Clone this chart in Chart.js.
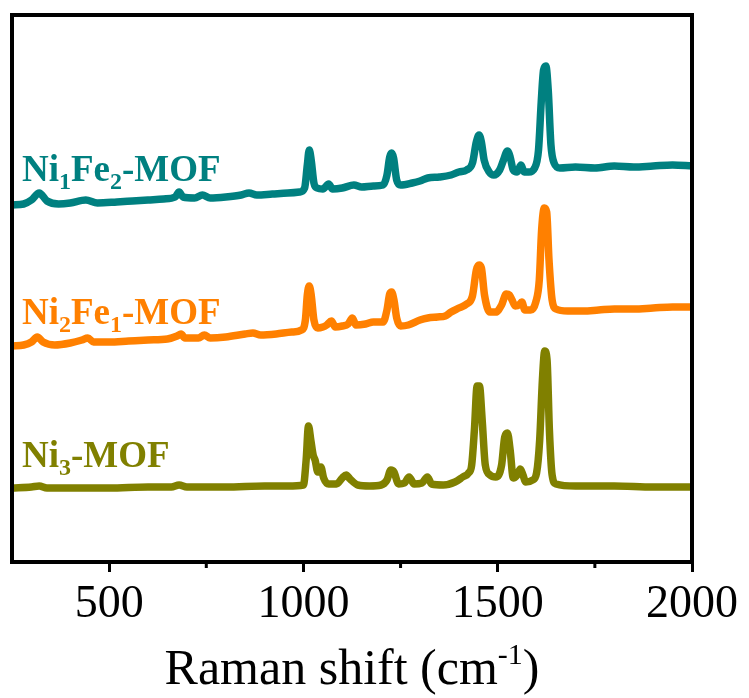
<!DOCTYPE html>
<html><head><meta charset="utf-8">
<script src="https://cdn.jsdelivr.net/npm/chart.js@4"></script>
<style>html,body{margin:0;padding:0;background:#fff}#wrap{width:749px;height:698px}</style>
</head><body><div id="wrap"><canvas id="c" width="749" height="698"></canvas></div>
<script>
// ---- data (Raman shift in cm-1, intensity in offset arbitrary units) ----
const ni1fe2Shift = [
  250,280,300,320,340,370,400,440,470,520,
  560,600,640,670,680,690,720,740,760,800,
  840,860,880,920,960,990,1003,1010,1015,1020,
  1027,1035,1050,1065,1075,1100,1130,1150,1180,1205,
  1215,1222,1227,1232,1240,1250,1280,1300,1320,1350,
  1380,1400,1420,1435,1445,1452,1458,1465,1478,1490,
  1505,1515,1525,1532,1540,1550,1560,1568,1580,1595,
  1605,1612,1618,1624,1630,1637,1645,1660,1700,1750,
  1800,1850,1900,1950,2000];
const ni1fe2Intensity = [
  357,358,362,369,361,358,359,362,359,360,
  361,362,363,365,370,365,364,367,364,365,
  367,369,367,368,369,370,374,397,412,402,
  379,374,373,378,373,374,377,375,376,377,
  387,405,409,404,382,377,379,381,384,385,
  387,390,392,399,420,427,420,402,390,387,
  392,402,411,405,392,390,397,390,390,394,
  412,460,492,496,472,417,399,394,395,394,
  396,395,396,397,396];

const ni2fe1Shift = [
  250,280,300,315,330,360,400,430,445,460,
  500,550,600,650,675,685,695,730,745,760,
  800,850,870,890,930,970,995,1005,1010,1015,
  1020,1027,1037,1050,1060,1072,1082,1100,1115,1126,
  1135,1160,1180,1205,1215,1222,1227,1233,1240,1250,
  1270,1300,1320,1345,1365,1380,1400,1420,1435,1445,
  1452,1458,1466,1480,1495,1510,1522,1530,1537,1545,
  1555,1562,1570,1585,1598,1607,1613,1620,1626,1632,
  1640,1650,1680,1720,1760,1800,1850,1900,1950,2000];
const ni2fe1Intensity = [
  216,217,220,225,220,217,219,222,224,220,
  220,221,222,223,226,228,224,224,227,224,
  225,228,229,227,228,230,232,242,267,276,
  267,242,234,235,237,241,235,236,238,244,
  237,238,240,240,252,268,270,262,244,236,
  237,242,244,245,246,250,254,258,266,292,
  297,294,267,250,250,257,268,267,262,256,
  257,260,252,252,260,282,332,354,350,302,
  262,253,251,251,252,253,253,254,255,255];

const ni3Shift = [
  250,300,320,340,400,500,600,660,680,700,
  800,900,960,1000,1007,1013,1019,1025,1030,1037,
  1045,1052,1065,1085,1100,1110,1120,1140,1170,1200,
  1215,1225,1233,1245,1260,1272,1285,1305,1319,1330,
  1360,1390,1410,1425,1433,1440,1447,1453,1460,1468,
  1480,1495,1510,1518,1525,1532,1540,1550,1558,1565,
  1572,1590,1600,1608,1615,1621,1627,1633,1640,1650,
  1700,1800,1900,2000];
const ni3Intensity = [
  74,75,76,74,74,74,75,75,77,75,
  75,76,76,77,102,136,122,107,102,90,
  95,84,78,78,84,87,83,77,76,77,
  82,92,90,78,79,85,78,79,85,78,
  77,80,85,89,97,132,176,176,142,97,
  87,85,97,125,129,112,84,87,93,87,
  80,82,89,122,182,211,202,132,87,78,
  76,76,75,75];

const seriesNames = ['Ni1Fe2-MOF', 'Ni2Fe1-MOF', 'Ni3-MOF'];
const seriesLabelParts = [
  [['Ni',0],['1',1],['Fe',0],['2',1],['-MOF',0]],
  [['Ni',0],['2',1],['Fe',0],['1',1],['-MOF',0]],
  [['Ni',0],['3',1],['-MOF',0]]
];
const seriesColors = ['#008080', '#FF8000', '#808000'];
const xTickValues = [500, 1000, 1500, 2000];
const xMinorTickValues = [750, 1250, 1750];
const xTitleMain = 'Raman shift (cm';
const xTitleSup = '-1';
const xTitleEnd = ')';

const toPts = (xs, ys) => xs.map((v, i) => ({x: v, y: ys[i]}));
const seriesData = [
  toPts(ni1fe2Shift, ni1fe2Intensity),
  toPts(ni2fe1Shift, ni2fe1Intensity),
  toPts(ni3Shift, ni3Intensity)
];
const labelBaselines = [181, 324, 467];

const decor = {
  id: 'decor',
  afterDraw(chart) {
    const {ctx, chartArea: a, scales: {x}} = chart;
    ctx.save();
    ctx.strokeStyle = '#000';
    ctx.lineWidth = 4;
    ctx.strokeRect(a.left, a.top, a.right - a.left, a.bottom - a.top);
    ctx.lineWidth = 3;
    xMinorTickValues.forEach(v => {
      const px = x.getPixelForValue(v);
      ctx.beginPath(); ctx.moveTo(px, a.bottom); ctx.lineTo(px, a.bottom + 6); ctx.stroke();
    });
    // axis title with superscript
    ctx.fillStyle = '#000';
    ctx.textBaseline = 'alphabetic';
    ctx.textAlign = 'left';
    const fMain = '50px "Liberation Serif", "Times New Roman", serif';
    const fSup = '30px "Liberation Serif", "Times New Roman", serif';
    ctx.font = fMain; const w1 = ctx.measureText(xTitleMain).width; const w3 = ctx.measureText(xTitleEnd).width;
    ctx.font = fSup; const w2 = ctx.measureText(xTitleSup).width;
    const total = w1 + w2 + w3;
    let tx = (a.left + a.right) / 2 - total / 2;
    const ty = 684;
    ctx.font = fMain; ctx.fillText(xTitleMain, tx, ty); tx += w1;
    ctx.font = fSup; ctx.fillText(xTitleSup, tx, ty - 20); tx += w2;
    ctx.font = fMain; ctx.fillText(xTitleEnd, tx, ty);
    // series labels
    seriesLabelParts.forEach((parts, i) => {
      let lx = 22;
      const by = labelBaselines[i];
      ctx.fillStyle = seriesColors[i];
      parts.forEach(([t, sub]) => {
        ctx.font = sub ? 'bold 24px "Liberation Serif", serif' : 'bold 37px "Liberation Serif", serif';
        ctx.fillText(t, lx, sub ? by + 8 : by);
        lx += ctx.measureText(t).width;
      });
    });
    ctx.restore();
  }
};

new Chart(document.getElementById('c'), {
  type: 'line',
  data: {
    datasets: seriesData.map((d, i) => ({
      label: seriesNames[i],
      data: d,
      borderColor: seriesColors[i],
      backgroundColor: seriesColors[i],
      borderWidth: 7.5,
      pointRadius: 0,
      fill: false,
      cubicInterpolationMode: 'monotone',
      borderJoinStyle: 'round',
      borderCapStyle: 'round'
    }))
  },
  options: {
    responsive: false,
    animation: false,
    layout: {padding: {left: 12, top: 15, right: 57, bottom: 0}},
    plugins: {legend: {display: false}, tooltip: {enabled: false}},
    scales: {
      x: {
        type: 'linear', min: 250, max: 2000,
        afterBuildTicks: s => { s.ticks = xTickValues.map(v => ({value: v})); },
        afterFit: s => { s.height = 136; },
        grid: {drawOnChartArea: false, drawTicks: true, tickLength: 10, tickWidth: 3, tickColor: '#000'},
        border: {display: true, color: '#000', width: 4},
        ticks: {color: '#000', padding: 5, maxRotation: 0, autoSkip: false,
          callback: v => String(v),
          font: {family: '"Liberation Serif", "Times New Roman", serif', size: 46}}
      },
      y: {display: false, min: 0, max: 547}
    }
  },
  plugins: [decor]
});
</script>
</body></html>
